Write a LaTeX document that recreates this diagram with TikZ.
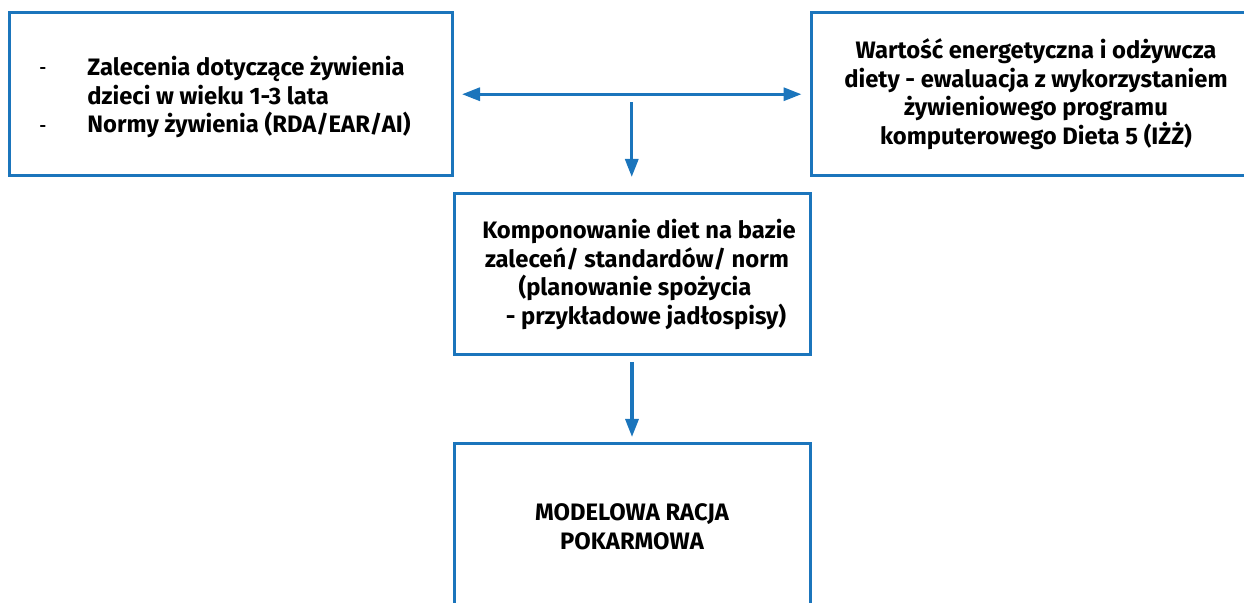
\documentclass[tikz,border=0pt]{standalone}
\usepackage{fontspec}
\setmainfont{Fira Sans}
\usetikzlibrary{calc,arrows.meta}
\definecolor{fblue}{RGB}{27,117,188}
\begin{document}
\begin{tikzpicture}[x=0.5pt,y=-0.5pt,
  box/.style={draw=fblue,line width=1.5pt,inner sep=0pt,font=\bfseries\fontsize{11.9}{14.25}\selectfont,align=center},
  conn/.style={draw=fblue,line width=1.6pt,-{Triangle[length=9pt,width=6.5pt]}},
  txt/.style={font=\bfseries\fontsize{11.9}{14.25}\selectfont,inner sep=0pt},
  bul/.style={font=\bfseries\fontsize{8}{9}\selectfont,inner sep=0pt}]
\clip (0,0) rectangle (1244,603);
\useasboundingbox (0,0) rectangle (1244,603);
% boxes
\node[box,minimum width=442.5*0.5pt,minimum height=162.5*0.5pt] (L) at (230.75,94.25) {};
\node[box,minimum width=449*0.5pt,minimum height=162.5*0.5pt] (R) at (1036,94.25)
  {Wartość energetyczna i odżywcza\\diety - ewaluacja z wykorzystaniem\\żywieniowego programu\\komputerowego Dieta 5 (IŻŻ)};
\node[box,minimum width=356*0.5pt,minimum height=161*0.5pt] (M) at (632,274.5)
  {\hspace*{7pt}Komponowanie diet na bazie\\\hspace*{5pt}zaleceń/ standardów/ norm\\\hspace*{3pt}(planowanie spożycia\\\hspace*{14pt}- przykładowe jadłospisy)};
\node[box,minimum width=356*0.5pt,minimum height=166*0.5pt] (B) at (632,527)
  {MODELOWA RACJA\\POKARMOWA};
% left text
\node[txt,anchor=west,align=left] (Lt) at (87,97)
  {Zalecenia dotyczące żywienia\\dzieci w wieku 1-3 lata\\Normy żywienia (RDA/EAR/AI)};
\node[bul] (b1) at (43,70.5) {-};
\node[bul] (b2) at (43,128.5) {-};
% connectors
\draw[conn,{Triangle[length=9pt,width=6.5pt]}-{Triangle[length=9pt,width=6.5pt]},shorten <=4.25pt,shorten >=4.25pt] (L) -- (R);
\coordinate (mid) at ($(L.east)!0.5!(R.west)+(0,8)$);
\draw[conn,shorten >=7.75pt] (mid) -- (mid |- M.north);
\draw[conn,shorten <=2.75pt,shorten >=2.75pt] (M.south) -- (B.north);
\end{tikzpicture}
\end{document}
